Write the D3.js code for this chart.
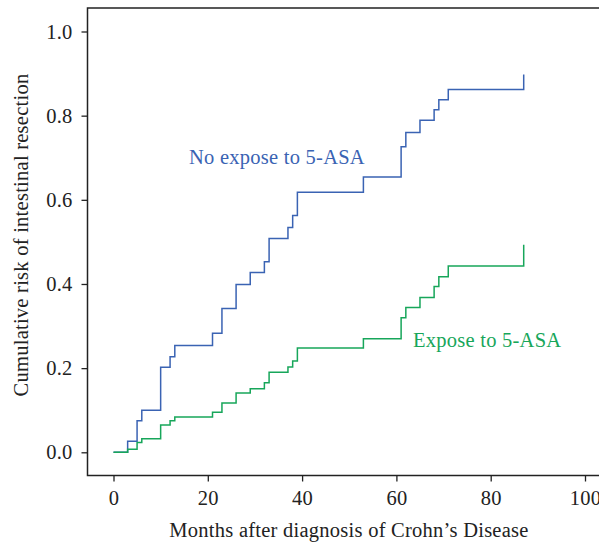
<!DOCTYPE html>
<html>
<head>
<meta charset="utf-8">
<script src="https://cdn.jsdelivr.net/npm/d3@7"></script>
<style>
  body { margin: 0; background: #fff; }
  text { font-family: "Liberation Serif", "DejaVu Serif", serif; letter-spacing: 0.25px; }
</style>
</head>
<body>
<svg id="chart" width="599" height="545"></svg>
<script>
// step events: month -> cumulative risk
const months = [0, 3, 5, 6, 10, 12, 13, 21, 23, 26, 29, 32, 33, 37, 38, 39, 53, 61, 62, 65, 68, 69, 71, 87]
const noExposeRisk = [0, 0.026, 0.075, 0.100, 0.202, 0.227, 0.254, 0.283, 0.342, 0.399, 0.427, 0.453,
	0.508, 0.534, 0.563, 0.618, 0.654, 0.726, 0.760, 0.789, 0.814, 0.838, 0.862, 0.898]
const exposeRisk = [0, 0.007, 0.023, 0.032, 0.065, 0.075, 0.084, 0.095, 0.117, 0.141, 0.151, 0.165,
	0.190, 0.203, 0.217, 0.248, 0.270, 0.320, 0.344, 0.368, 0.394, 0.417, 0.443, 0.493]
const xTicks = [0, 20, 40, 60, 80, 100]
const yTicks = [0, 0.2, 0.4, 0.6, 0.8, 1.0]
const seriesNames = ['No expose to 5-ASA', 'Expose to 5-ASA']

const blue = '#3a63b3'
const green = '#17a65a'
const fontSize = 20.5

const svg = d3.select('#chart')

const x = d3.scaleLinear().domain([0, 100]).range([113.5, 585])
const y = d3.scaleLinear().domain([0, 1]).range([452.3, 31.5])

const frame = { left: 87.5, top: 8, bottom: 475.5, right: 640 }

// box (right side runs off the picture)
svg.append('rect')
	.attr('x', frame.left)
	.attr('y', frame.top)
	.attr('width', frame.right - frame.left)
	.attr('height', frame.bottom - frame.top)
	.attr('fill', 'none')
	.attr('stroke', '#222')
	.attr('stroke-width', 1.5)

const yAxis = svg.append('g')
	.attr('transform', `translate(${frame.left},0)`)
	.call(d3.axisLeft(y).tickValues(yTicks).tickFormat(d3.format('.1f')).tickSize(6).tickPadding(9))
yAxis.select('.domain').remove()

const xAxis = svg.append('g')
	.attr('transform', `translate(0,${frame.bottom})`)
	.call(d3.axisBottom(x).tickValues(xTicks).tickSize(6).tickPadding(9))
xAxis.select('.domain').remove()

svg.selectAll('.tick line').attr('stroke', '#222').attr('stroke-width', 1.3)
svg.selectAll('.tick text')
	.attr('fill', '#222')
	.style('font-family', '"Liberation Serif", serif')
	.style('font-size', fontSize + 'px')

const line = d3.line()
	.x((d) => x(d[0]))
	.y((d) => y(d[1]))
	.curve(d3.curveStepAfter)

const series = [
	{ name: seriesNames[0], values: noExposeRisk, color: blue, label: [189, 163.5] },
	{ name: seriesNames[1], values: exposeRisk, color: green, label: [413, 346.5] }
]

svg.selectAll('path.curve')
	.data(series)
	.enter().append('path')
		.attr('class', 'curve')
		.attr('d', (s) => line(months.map((m, i) => [m, s.values[i]])))
		.attr('fill', 'none')
		.attr('stroke', (s) => s.color)
		.attr('stroke-width', 1.5)

svg.selectAll('text.label')
	.data(series)
	.enter().append('text')
		.attr('class', 'label')
		.attr('x', (s) => s.label[0])
		.attr('y', (s) => s.label[1])
		.attr('fill', (s) => s.color)
		.style('font-size', fontSize + 'px')
		.text((s) => s.name)

svg.append('text')
	.attr('x', 349)
	.attr('y', 537)
	.attr('text-anchor', 'middle')
	.attr('fill', '#222')
	.style('font-size', fontSize + 'px')
	.text('Months after diagnosis of Crohn\u2019s Disease')

svg.append('text')
	.attr('transform', 'translate(28,235) rotate(-90)')
	.attr('text-anchor', 'middle')
	.attr('fill', '#222')
	.style('font-size', fontSize + 'px')
	.text('Cumulative risk of intestinal resection')
</script>
</body>
</html>
